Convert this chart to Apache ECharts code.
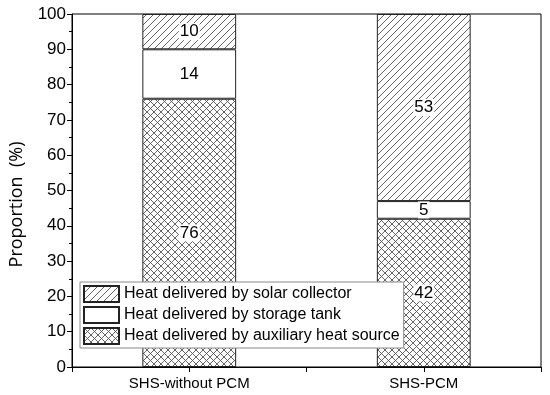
<!DOCTYPE html>
<html><head><meta charset="utf-8">
<script src="https://cdn.jsdelivr.net/npm/echarts@6/dist/echarts.min.js"></script>
<style>html,body{margin:0;padding:0;background:#fff}#c{width:550px;height:395px}</style>
</head><body><div id="c"></div>
<script>
const categories = ['SHS-without PCM', 'SHS-PCM'];
const auxiliary = [76, 42];
const storage = [14, 5];
const solar = [10, 53];
const seriesNames = ['Heat delivered by solar collector', 'Heat delivered by storage tank', 'Heat delivered by auxiliary heat source'];

function hatch(size, both) {
  const c = document.createElement('canvas');
  c.width = size; c.height = size;
  const g = c.getContext('2d');
  g.fillStyle = '#fff'; g.fillRect(0, 0, size, size);
  g.strokeStyle = '#555'; g.lineWidth = 0.9;
  g.beginPath();
  g.moveTo(-1, size + 1); g.lineTo(size + 1, -1);
  g.moveTo(-1, 1); g.lineTo(1, -1);
  g.moveTo(size - 1, size + 1); g.lineTo(size + 1, size - 1);
  if (both) {
    g.moveTo(-1, -1); g.lineTo(size + 1, size + 1);
    g.moveTo(size - 1, -1); g.lineTo(size + 1, 1);
    g.moveTo(-1, size - 1); g.lineTo(1, size + 1);
  }
  g.stroke();
  return c;
}
const diagPat = { image: hatch(7, false), repeat: 'repeat' };
const crossPat = { image: hatch(7, true), repeat: 'repeat' };

const font = '"Liberation Sans", Arial, sans-serif';
const lbl = { show: true, position: 'inside', color: '#000', fontSize: 17, fontFamily: font, backgroundColor: '#fff', padding: [0, 1] };
const item = (c) => ({ color: c, borderColor: '#222', borderWidth: 1 });

const chart = echarts.init(document.getElementById('c'));
chart.setOption({
  animation: false,
  grid: { left: 68, right: 9, top: 14, bottom: 28, show: true, borderColor: '#000', borderWidth: 1 },
  legend: {
    orient: 'vertical', left: 80, top: 282, itemWidth: 35, itemHeight: 16, itemGap: 3, icon: 'rect',
    padding: [3, 4, 3, 3], borderColor: '#888', borderWidth: 1, backgroundColor: '#fff',
    data: seriesNames, textStyle: { fontSize: 16, fontFamily: font, color: '#000' }
  },
  xAxis: [
    { type: 'category', data: categories, axisLine: { lineStyle: { color: '#000' } }, axisTick: { show: false },
      axisLabel: { color: '#000', fontSize: 15, fontFamily: font, margin: 9 } },
    { type: 'value', min: 0, max: 4, interval: 1, position: 'bottom', axisLine: { show: false },
      axisTick: { show: true, length: 5, lineStyle: { color: '#000' } }, axisLabel: { show: false }, splitLine: { show: false } }
  ],
  yAxis: {
    type: 'value', min: 0, max: 100, interval: 10,
    name: 'Proportion  (%)', nameLocation: 'middle', nameGap: 46,
    nameTextStyle: { fontSize: 18, fontFamily: '"Open Sans", "Noto Sans", sans-serif', color: '#000', padding: [0, 28, 0, 0] },
    axisLine: { show: true, lineStyle: { color: '#000' } },
    axisTick: { show: true, length: 5, lineStyle: { color: '#000' } },
    minorTick: { show: true, splitNumber: 2, length: 3, lineStyle: { color: '#000' } },
    axisLabel: { color: '#000', fontSize: 17, fontFamily: font, margin: 6 },
    splitLine: { show: false }
  },
  series: [
    { name: seriesNames[2], type: 'bar', stack: 's', data: auxiliary, barWidth: '40%', itemStyle: item(crossPat), label: lbl },
    { name: seriesNames[1], type: 'bar', stack: 's', data: storage, barWidth: '40%', itemStyle: item('#fff'), label: lbl },
    { name: seriesNames[0], type: 'bar', stack: 's', data: solar, barWidth: '40%', itemStyle: item(diagPat), label: lbl }
  ]
});
</script></body></html>
